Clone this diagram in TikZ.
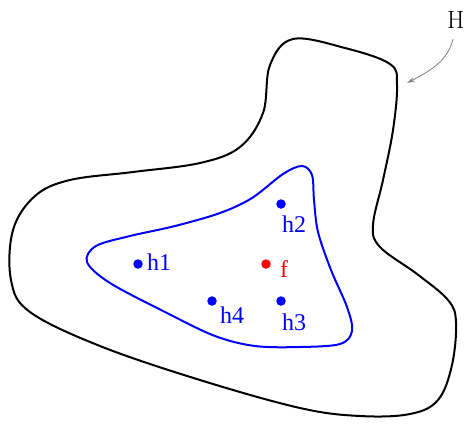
\documentclass[tikz,border=0pt]{standalone}
\usepackage{fontspec}
\setmainfont{Liberation Serif}
\newfontfamily\lmfont{Latin Modern Roman}
\usetikzlibrary{arrows.meta}
\tikzset{
  dotb/.style={circle,fill=blue,inner sep=0pt,minimum size=9.5pt},
  dotr/.style={circle,fill=red,inner sep=0pt,minimum size=9.5pt},
  lab/.style={text=blue,font=\fontsize{24}{26}\selectfont,inner sep=0pt,anchor=base west},
  outline/.style={line width=2pt,black},
  inner/.style={line width=2pt,blue}
}
\begin{document}
\begin{tikzpicture}[x=1pt,y=-1pt]
\useasboundingbox (0,0) rectangle (465,424);
% outer region H
\draw[outline] plot[smooth cycle,tension=0.6] coordinates {
 (293,39) (345,48) (390,64) (397,85) (393,130) (383,180) (373,225)
 (380,247) (417,274) (448,300) (456,322) (452,365) (438,400)
 (410,414) (360,416) (300,408) (200,380) (100,346) (30,312)
 (11,280) (13,230) (35,196) (70,180) (133,172) (200,163)
 (240,147) (263,113) (270,65)};
% inner blue region
\draw[inner] plot[smooth cycle,tension=0.55] coordinates {
 (302,166) (312,175) (314,200) (318,232) (331,270) (347,307)
 (352,331) (340,344) (300,347) (255,346) (215,336) (167,313)
 (110,283) (87,262) (96,246) (130,236) (175,226) (220,213)
 (252,198) (283,174)};
% points
\node[dotb] (h1) at (138,264) {};
\node[dotb] (h2) at (281,204) {};
\node[dotr] (f)  at (266,264) {};
\node[dotb] (h3) at (281,301) {};
\node[dotb] (h4) at (212,301) {};
\node[lab] (lh1) at (147,270) {h1};
\node[lab] (lh2) at (282,232) {h2};
\node[lab,text=red] (lf) at (280,277) {f};
\node[lab] (lh3) at (282,330) {h3};
\node[lab] (lh4) at (220,323) {h4};
% label H with arrow
\node[font=\lmfont\fontsize{25}{26}\selectfont,inner sep=0pt,anchor=base west] (H) at (447,28) {H};
\coordinate (Htip) at (407,83);
\coordinate (Hstart) at (453,39);
\draw[gray,line width=0.8pt,-{Stealth[length=8pt,width=4.5pt]}] (Hstart) .. controls (448,60) and (432,70) .. (Htip);
\end{tikzpicture}
\end{document}
